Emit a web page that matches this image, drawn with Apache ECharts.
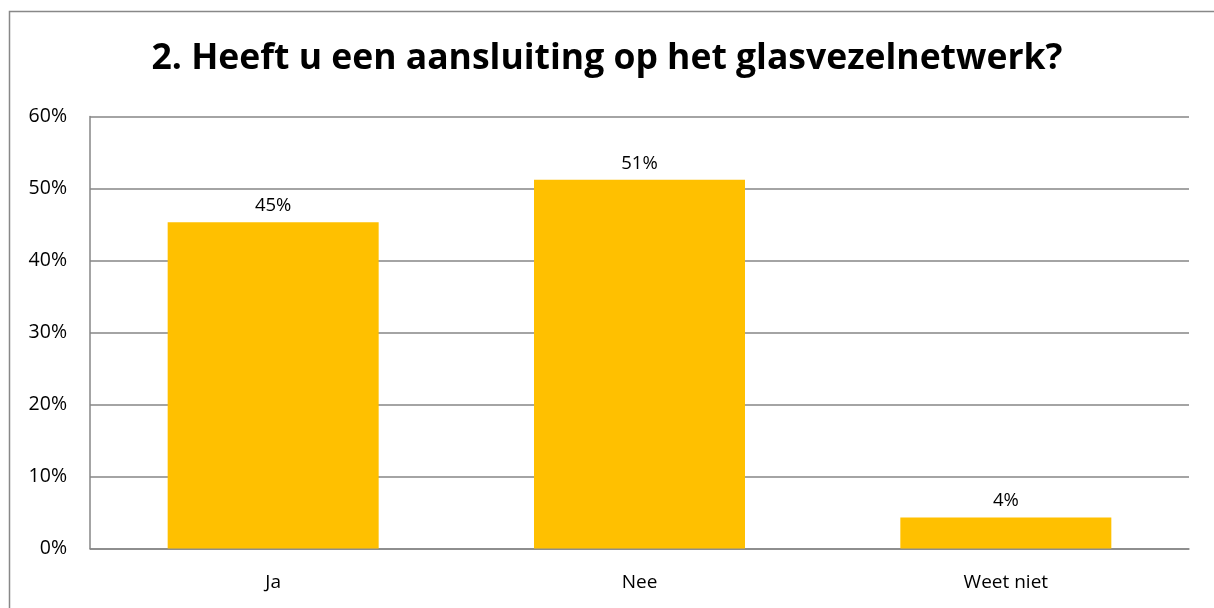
<!DOCTYPE html>
<html><head><meta charset="utf-8">
<script src="https://cdn.jsdelivr.net/npm/echarts@6/dist/echarts.min.js"></script>
<style>html,body{margin:0;padding:0;background:#fff}#c{width:1214px;height:608px}</style>
</head><body><div id="c"></div>
<script>
const titleText = '2. Heeft u een aansluiting op het glasvezelnetwerk?';
const categories = ['Ja', 'Nee', 'Weet niet'];
const values = [0.453, 0.512, 0.043];
const yTicks = [0, 0.1, 0.2, 0.3, 0.4, 0.5, 0.6];

const chart = echarts.init(document.getElementById('c'));
chart.setOption({
  animation: false,
  title: {
    text: titleText, left: 'center', top: 36,
    textStyle: {fontFamily: 'Open Sans', fontWeight: 'bold', fontSize: 35.5, color: '#000'}
  },
  graphic: [{
    type: 'rect', shape: {x: 9.5, y: 11.5, width: 1250, height: 650},
    style: {fill: 'none', stroke: '#888', lineWidth: 1.5}, silent: true, z: -1
  }],
  grid: {left: 90, right: 25, top: 116.5, bottom: 59.5},
  xAxis: {
    type: 'category', data: categories,
    axisLine: {lineStyle: {color: '#868686', width: 1.5}},
    axisTick: {show: false},
    axisLabel: {fontFamily: 'Open Sans', fontSize: 19, color: '#000', margin: 25}
  },
  yAxis: {
    type: 'value', min: 0, max: 0.6, interval: 0.1,
    axisLine: {show: true, lineStyle: {color: '#868686', width: 1.5}},
    axisTick: {show: false},
    splitLine: {lineStyle: {color: '#868686', width: 1.5}},
    axisLabel: {
      fontFamily: 'Open Sans', fontSize: 19.5, color: '#000', margin: 23,
      formatter: v => Math.round(v * 100) + '%'
    }
  },
  series: [{
    type: 'bar', data: values, barWidth: 211,
    itemStyle: {color: '#FFC000'},
    label: {
      show: true, position: 'top', distance: 7,
      fontFamily: 'Open Sans', fontSize: 18.5, color: '#000',
      formatter: p => Math.round(p.value * 100) + '%'
    }
  }]
});
</script></body></html>
